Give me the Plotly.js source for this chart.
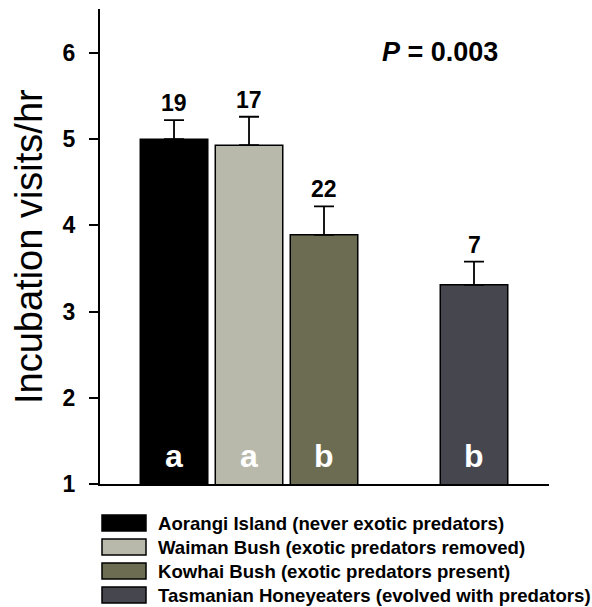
<!DOCTYPE html>
<html>
<head>
<meta charset="utf-8">
<script src="https://cdn.plot.ly/plotly-3.0.1.min.js"></script>
<style>html,body{margin:0;padding:0;background:#fff;}#chart{width:592px;height:607px;}</style>
</head>
<body>
<div id="chart"></div>
<script>
// ---- data ----
const groups = [
  "Aorangi Island (never exotic predators)",
  "Waiman Bush (exotic predators removed)",
  "Kowhai Bush (exotic predators present)",
  "Tasmanian Honeyeaters (evolved with predators)"
];
const visits = [5.00, 4.93, 3.89, 3.31];
const seUp = [0.22, 0.33, 0.33, 0.27];
const nLabels = ["19", "17", "22", "7"];
const letters = ["a", "a", "b", "b"];
const pValue = "0.003";

// ---- presentation ----
const slots = [0, 1, 2, 4];
const colors = ["#000000", "#b9b9ab", "#6c6c52", "#46464f"];
const FONT = "Liberation Sans, Arial, Helvetica, sans-serif";
const W = 592, H = 607;
const M = {l: 100, r: 43, t: 9, b: 123};
const plotW = W - M.l - M.r, plotH = H - M.t - M.b;
const px2x = px => (px - M.l) / plotW;
const py2y = py => (H - M.b - py) / plotH;

const traces = groups.map((g, i) => ({
  type: "bar",
  x: [slots[i]],
  y: [visits[i]],
  base: 0,
  width: 0.9,
  name: g,
  showlegend: false,
  marker: {color: colors[i], line: {color: "#000", width: 1.5}},
  error_y: {type: "data", symmetric: false, array: [seUp[i]], arrayminus: [0],
            color: "#000", thickness: 1.8, width: 10}
}));

const annotations = [];
groups.forEach((g, i) => {
  annotations.push({
    x: slots[i], y: visits[i] + seUp[i], xref: "x", yref: "y",
    text: "<b>" + nLabels[i] + "</b>", showarrow: false,
    yanchor: "bottom", yshift: 2,
    font: {family: FONT, size: 23, color: "#000"}
  });
  annotations.push({
    x: slots[i], y: 1.32, xref: "x", yref: "y",
    text: "<b>" + letters[i] + "</b>", showarrow: false,
    yanchor: "middle",
    font: {family: FONT, size: 32, color: "#fff"}
  });
  const rowY = 523 + 24 * i;
  annotations.push({
    x: px2x(156), y: py2y(rowY), xref: "paper", yref: "paper",
    text: "<b>" + g + "</b>", showarrow: false,
    xanchor: "left", yanchor: "middle",
    font: {family: FONT, size: 18.6, color: "#000"}
  });
});
annotations.push({
  x: px2x(440), y: py2y(52), xref: "paper", yref: "paper",
  text: "<b><i>P</i> = " + pValue + "</b>",
  showarrow: false, xanchor: "center", yanchor: "middle",
  font: {family: FONT, size: 27, color: "#000"}
});
annotations.push({
  x: px2x(29), y: py2y(247), xref: "paper", yref: "paper",
  text: "Incubation visits/hr", textangle: -90, showarrow: false,
  xanchor: "center", yanchor: "middle",
  font: {family: FONT, size: 38, color: "#000"}
});

const shapes = groups.map((g, i) => {
  const cy = 523 + 24 * i;
  return {
    type: "rect", xref: "paper", yref: "paper",
    x0: px2x(102), x1: px2x(146), y0: py2y(cy - 8), y1: py2y(cy + 8),
    fillcolor: colors[i], line: {color: "#000", width: 1.5}
  };
});

const layout = {
  width: W, height: H,
  margin: M,
  paper_bgcolor: "#fff", plot_bgcolor: "#fff",
  showlegend: false,
  bargap: 0,
  xaxis: {
    range: [-0.987, 5.0], showgrid: false, zeroline: false,
    showline: true, linecolor: "#000", linewidth: 2,
    ticks: "", showticklabels: false, fixedrange: true
  },
  yaxis: {
    range: [1, 6.51], showgrid: false, zeroline: false,
    showline: true, linecolor: "#000", linewidth: 2,
    tickvals: [1, 2, 3, 4, 5, 6], ticktext: ["<b>1</b>", "<b>2</b>", "<b>3</b>", "<b>4</b>", "<b>5</b>", "<b>6</b>"],
    ticks: "outside", ticklen: 9, tickwidth: 2, tickcolor: "#000",
    ticklabelstandoff: 9,
    tickfont: {family: FONT, size: 23, color: "#000"},
    fixedrange: true
  },
  annotations: annotations,
  shapes: shapes
};

Plotly.newPlot("chart", traces, layout, {displayModeBar: false, staticPlot: true});
</script>
</body>
</html>
